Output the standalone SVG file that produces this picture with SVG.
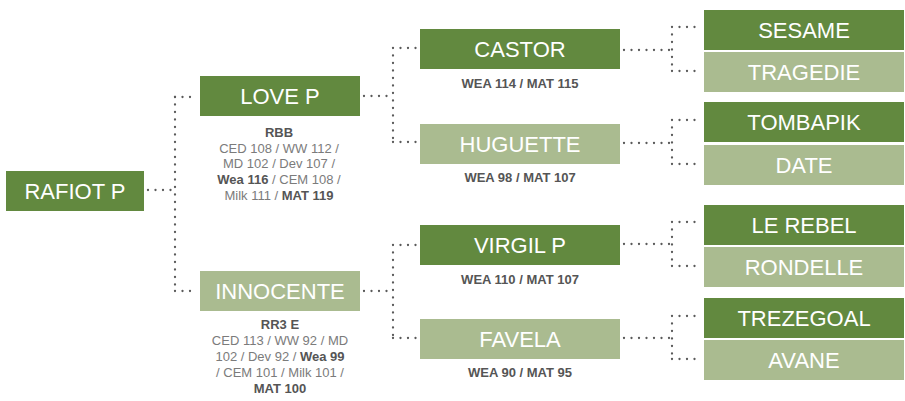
<svg xmlns="http://www.w3.org/2000/svg" width="905" height="401" viewBox="0 0 905 401">
<style>
.dk{fill:#62893f}
.lt{fill:#aabb90}
.lbl{font-family:"Liberation Sans",Arial,sans-serif;font-size:22px;fill:#fff;text-anchor:middle}
.sub{font-family:"Liberation Sans",Arial,sans-serif;font-size:13px;fill:#7b7b7b;text-anchor:middle}
.b{font-weight:bold;fill:#555}
.con{fill:none;stroke:#5a5a5a;stroke-width:2.3;stroke-linecap:round;stroke-dasharray:0 7.5}
</style>
<rect width="905" height="401" fill="#fff"/>
<g id="connectors">
<path class="con" d="M148 190H175"/>
<path class="con" d="M175 97V291"/>
<path class="con" d="M175 97H197M175 291H197"/>
<path class="con" d="M364 96H393M393 48V142M393 48H416M393 142H416"/>
<path class="con" d="M364 291H393M393 245V338M393 245H416M393 338H416"/>
<path class="con" d="M624 50H672M672 27V71M672 27H700M672 71H700"/>
<path class="con" d="M624 143H672M672 120V164M672 120H700M672 164H700"/>
<path class="con" d="M624 244H672M672 222V266M672 222H700M672 266H700"/>
<path class="con" d="M624 338H672M672 316V359M672 316H700M672 359H700"/>
</g>
<g id="rafiot"><rect class="dk" x="6" y="171" width="138" height="40"/><text class="lbl" x="75" y="199">RAFIOT P</text></g>
<g id="love"><rect class="dk" x="200" y="76" width="160" height="40"/><text class="lbl" x="280" y="104">LOVE P</text>
<text class="sub" x="279"><tspan class="b" x="279" y="137">RBB</tspan><tspan x="279" y="153">CED 108  / WW 112 /</tspan><tspan x="279" y="168">MD 102 / Dev 107 /</tspan><tspan x="279" y="184"><tspan class="b">Wea 116</tspan> /  CEM 108 /</tspan><tspan x="279" y="200">Milk 111 / <tspan class="b">MAT 119</tspan></tspan></text></g>
<g id="innocente"><rect class="lt" x="200" y="271" width="160" height="40"/><text class="lbl" x="280" y="299">INNOCENTE</text>
<text class="sub" x="280"><tspan class="b" x="280" y="329">RR3 E</tspan><tspan x="280" y="345">CED 113  / WW 92 / MD</tspan><tspan x="280" y="361">102 / Dev 92 / <tspan class="b">Wea 99</tspan></tspan><tspan x="280" y="377">/  CEM 101 / Milk 101 /</tspan><tspan class="b" x="280" y="393">MAT 100</tspan></text></g>
<g id="castor"><rect class="dk" x="420" y="29" width="200" height="40"/><text class="lbl" x="520" y="57">CASTOR</text><text class="sub b" x="520" y="88">WEA 114 / MAT 115</text></g>
<g id="huguette"><rect class="lt" x="420" y="124" width="200" height="40"/><text class="lbl" x="520" y="152">HUGUETTE</text><text class="sub b" x="520" y="182">WEA 98 / MAT 107</text></g>
<g id="virgil"><rect class="dk" x="420" y="225" width="200" height="40"/><text class="lbl" x="520" y="253">VIRGIL P</text><text class="sub b" x="520" y="284">WEA 110 / MAT 107</text></g>
<g id="favela"><rect class="lt" x="420" y="319" width="200" height="40"/><text class="lbl" x="520" y="347">FAVELA</text><text class="sub b" x="520" y="377">WEA 90 / MAT 95</text></g>
<g id="sesame"><rect class="dk" x="704" y="10" width="200" height="40"/><text class="lbl" x="804" y="38">SESAME</text></g>
<g id="tragedie"><rect class="lt" x="704" y="52" width="200" height="40"/><text class="lbl" x="804" y="80">TRAGEDIE</text></g>
<g id="tombapik"><rect class="dk" x="704" y="102" width="200" height="40"/><text class="lbl" x="804" y="130">TOMBAPIK</text></g>
<g id="date"><rect class="lt" x="704" y="145" width="200" height="40"/><text class="lbl" x="804" y="173">DATE</text></g>
<g id="lerebel"><rect class="dk" x="704" y="205" width="200" height="40"/><text class="lbl" x="804" y="233">LE REBEL</text></g>
<g id="rondelle"><rect class="lt" x="704" y="247" width="200" height="40"/><text class="lbl" x="804" y="275">RONDELLE</text></g>
<g id="trezegoal"><rect class="dk" x="704" y="298" width="200" height="40"/><text class="lbl" x="804" y="326">TREZEGOAL</text></g>
<g id="avane"><rect class="lt" x="704" y="340" width="200" height="40"/><text class="lbl" x="804" y="368">AVANE</text></g>
</svg>
